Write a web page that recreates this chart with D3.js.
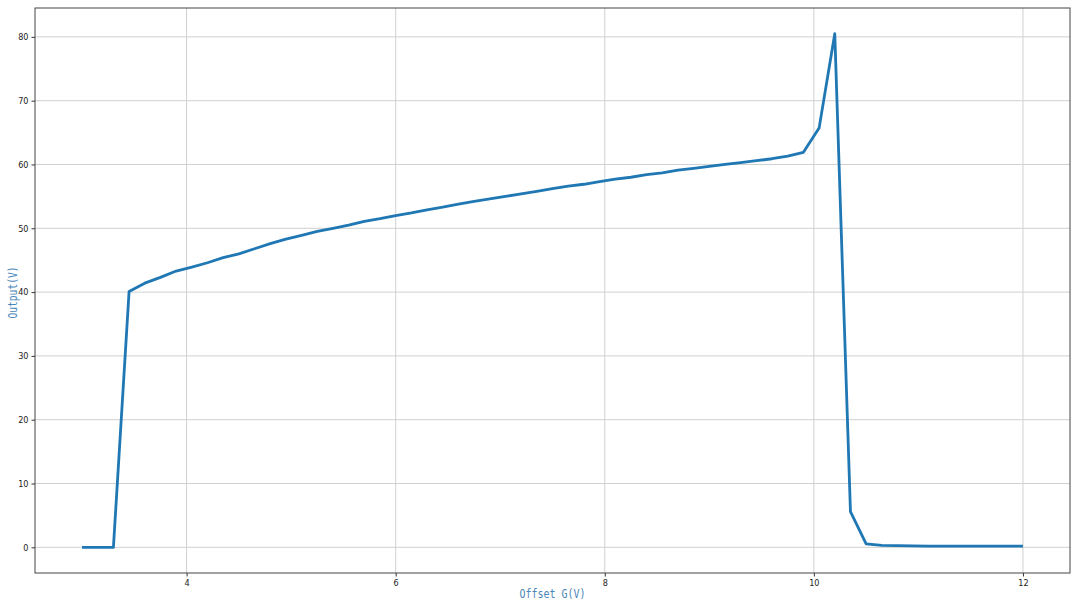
<!DOCTYPE html>
<html>
<head>
<meta charset="utf-8">
<script src="https://cdn.jsdelivr.net/npm/d3@7"></script>
<style>
  html, body { margin: 0; padding: 0; background: #fff; }
  svg { display: block; }
</style>
</head>
<body>
<svg id="chart" width="1080" height="607"></svg>
<script>
// ---- data ----
const offsetG = [3.0, 3.15, 3.3, 3.45, 3.6, 3.75, 3.9, 4.05, 4.2, 4.35, 4.5, 4.65, 4.8, 4.95,
  5.1, 5.25, 5.4, 5.55, 5.7, 5.85, 6.0, 6.15, 6.3, 6.45, 6.6, 6.75, 6.9, 7.05, 7.2, 7.35,
  7.5, 7.65, 7.8, 7.95, 8.1, 8.25, 8.4, 8.55, 8.7, 8.85, 9.0, 9.15, 9.3, 9.45, 9.6, 9.75,
  9.9, 10.05, 10.2, 10.35, 10.5, 10.65, 10.8, 10.95, 11.1, 11.25, 11.4, 11.55, 11.7, 11.85, 12.0];
const outputV = [0, 0, 0, 40.1, 41.4, 42.3, 43.3, 43.9, 44.6, 45.4, 46.0, 46.8, 47.6, 48.3,
  48.9, 49.5, 50.0, 50.5, 51.1, 51.5, 52.0, 52.4, 52.9, 53.3, 53.8, 54.2, 54.6, 55.0, 55.4, 55.8,
  56.2, 56.6, 56.9, 57.3, 57.7, 58.0, 58.4, 58.7, 59.1, 59.4, 59.7, 60.0, 60.3, 60.6, 60.9, 61.3,
  61.9, 65.7, 80.5, 5.6, 0.55, 0.3, 0.25, 0.22, 0.2, 0.2, 0.2, 0.2, 0.2, 0.2, 0.2];
const xTicks = [4, 6, 8, 10, 12];
const yTicks = [0, 10, 20, 30, 40, 50, 60, 70, 80];
const xLabel = "Offset G(V)";
const yLabel = "Output(V)";

// ---- layout ----
const svg = d3.select("#chart");
const L = 35, R = 1070, T = 8, B = 573;

const xMin = d3.min(offsetG), xMax = d3.max(offsetG);
const yMin = d3.min(outputV), yMax = d3.max(outputV);
const xPad = (xMax - xMin) * 0.05, yPad = (yMax - yMin) * 0.05;

const x = d3.scaleLinear().domain([xMin - xPad, xMax + xPad]).range([L, R]);
const y = d3.scaleLinear().domain([yMin - yPad, yMax + yPad]).range([B, T]);

const tickFont = "'Liberation Sans Narrow', 'DejaVu Sans Condensed', 'Roboto', sans-serif";
const labelFont = "'DejaVu Sans Mono', 'Liberation Mono', monospace";

// grid
svg.append("g").selectAll("line.gx").data(xTicks).join("line")
  .attr("x1", d => x(d)).attr("x2", d => x(d)).attr("y1", T).attr("y2", B)
  .attr("stroke", "#d0d0d0").attr("stroke-width", 1);
svg.append("g").selectAll("line.gy").data(yTicks).join("line")
  .attr("x1", L).attr("x2", R).attr("y1", d => y(d)).attr("y2", d => y(d))
  .attr("stroke", "#d0d0d0").attr("stroke-width", 1);

// axes
const xAxis = d3.axisBottom(x).tickValues(xTicks).tickSize(3.5).tickPadding(3).tickFormat(d3.format("d"));
const yAxis = d3.axisLeft(y).tickValues(yTicks).tickSize(3.5).tickPadding(3).tickFormat(d3.format("d"));

const gx = svg.append("g").attr("transform", `translate(0,${B})`).call(xAxis);
const gy = svg.append("g").attr("transform", `translate(${L},0)`).call(yAxis);
[gx, gy].forEach(g => {
  g.select(".domain").remove();
  g.selectAll(".tick line").attr("stroke", "#333");
  g.selectAll(".tick text").attr("fill", "#222").style("font-family", tickFont).style("font-size", "9px");
});

// line
const line = d3.line().x((d, i) => x(offsetG[i])).y(d => y(d));
svg.append("path").datum(outputV)
  .attr("d", line)
  .attr("fill", "none")
  .attr("stroke", "#1f77b4")
  .attr("stroke-width", 2.8)
  .attr("stroke-linejoin", "round");

// frame
svg.append("rect").attr("x", L).attr("y", T).attr("width", R - L).attr("height", B - T)
  .attr("fill", "none").attr("stroke", "#444").attr("stroke-width", 1);

// labels
svg.append("text").attr("x", (L + R) / 2).attr("y", 598)
  .attr("text-anchor", "middle").attr("fill", "#4a86b8")
  .attr("textLength", 66).attr("lengthAdjust", "spacingAndGlyphs")
  .style("font-family", labelFont).style("font-size", "12.5px")
  .text(xLabel);
svg.append("text")
  .attr("transform", `translate(17,${(T + B) / 2 + 2}) rotate(-90)`)
  .attr("text-anchor", "middle").attr("fill", "#4a86b8")
  .attr("textLength", 52).attr("lengthAdjust", "spacingAndGlyphs")
  .style("font-family", labelFont).style("font-size", "12.5px")
  .text(yLabel);
</script>
</body>
</html>
